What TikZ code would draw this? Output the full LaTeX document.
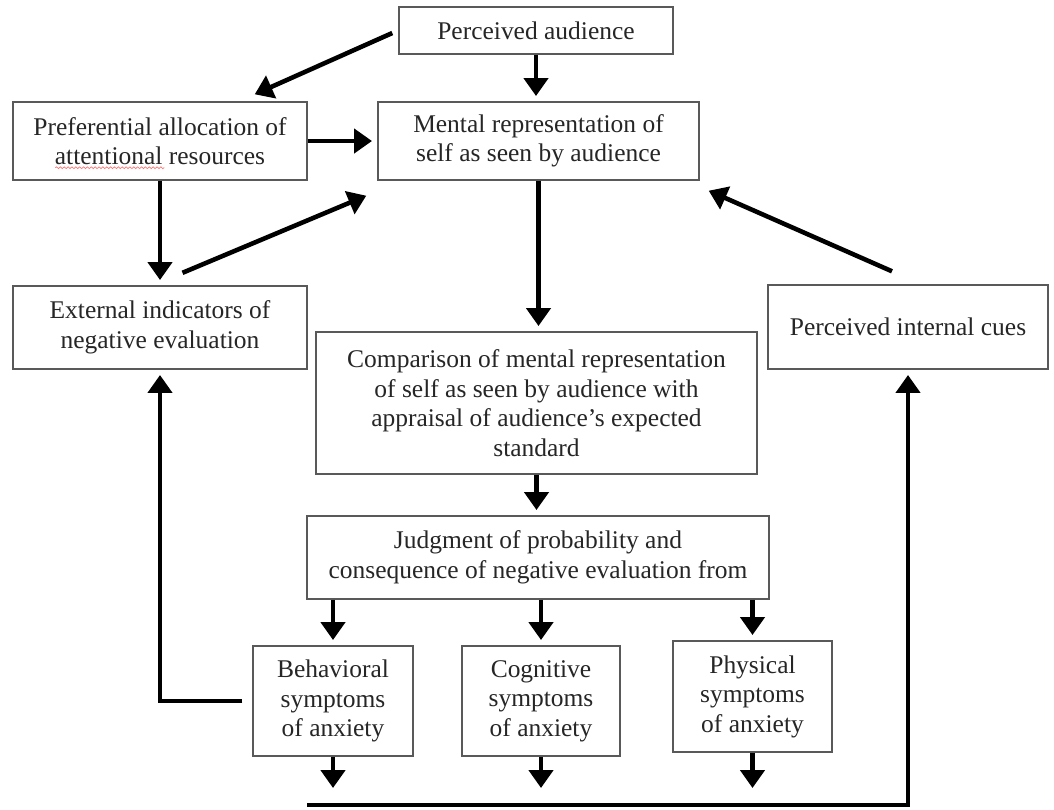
\documentclass[tikz,border=0pt]{standalone}
\usepackage{fontspec}
\setmainfont{Liberation Serif}
\usetikzlibrary{arrows.meta,positioning,decorations.pathmorphing}

\begin{document}
\begin{tikzpicture}[
  box/.style={draw=black!65, line width=0.8pt, fill=white, align=center,
              inner sep=2pt, text=black!85,
              font=\fontsize{14.5}{16.8}\selectfont},
  arrow/.style={-{Triangle[length=0.36cm,width=0.48cm]}, line width=2.6pt,
                shorten >=3pt},
  squiggle/.style={red!55, line width=0.4pt, decorate,
                   decoration={snake, amplitude=0.5pt, segment length=2.2pt}},
  every node/.style={align=center}
]

%% Page frame
\fill[white] (0,0) rectangle (21.08,-16.18);
\useasboundingbox (0,0) rectangle (21.08,-16.18);

%% Top row
\node[box, minimum width=5.48cm, minimum height=0.94cm] (pa) at (10.72,-0.61) {Perceived audience};
\node[box, minimum width=5.88cm, minimum height=1.56cm] (pref) at (3.2,-2.82)
     {Preferential allocation of\\attentional resources};
\node[box, minimum width=6.42cm, minimum height=1.56cm] (mr) at (10.77,-2.82)
     {Mental representation of\\self as seen by audience};

%% Middle row
\node[box, minimum width=5.88cm, minimum height=1.66cm] (ext) at (3.2,-6.55)
     {External indicators of\\negative evaluation};
\node[box, minimum width=5.6cm, minimum height=1.68cm] (pic) at (18.16,-6.54)
     {Perceived internal cues};
\node[box, minimum width=8.82cm, minimum height=2.84cm] (comp) at (10.73,-8.06)
     {Comparison of mental representation\\of self as seen by audience with\\appraisal of audience’s expected\\standard};
\node[box, minimum width=9.24cm, minimum height=1.66cm] (judg) at (10.76,-11.15)
     {Judgment of probability and\\consequence of negative evaluation from};

%% Symptoms
\node[box, minimum width=3.2cm, minimum height=2.2cm] (beh) at (6.66,-14.02)
     {Behavioral\\symptoms\\of anxiety};
\node[box, minimum width=3.16cm, minimum height=2.2cm] (cog) at (10.82,-14.02)
     {Cognitive\\symptoms\\of anxiety};
\node[box, minimum width=3.18cm, minimum height=2.22cm] (phys) at (15.05,-13.93)
     {Physical\\symptoms\\of anxiety};

%% Spell-check mark under "attentional"
\draw[squiggle] ([xshift=0.86cm,yshift=0.26cm]pref.south west)
  -- ([xshift=3.04cm,yshift=0.26cm]pref.south west);

%% Arrows between the upper boxes
\draw[arrow] (pa.south) -- (pa.south |- mr.north);
\draw[arrow, shorten >=0pt] ([xshift=-0.12cm,yshift=-0.05cm]pa.west)
  -- ([xshift=-1.06cm,yshift=0.14cm]pref.north east);
\draw[arrow] (pref.east) -- (mr.west);
\draw[arrow] (pref.south) -- (ext.north);
\draw[arrow, shorten >=0pt] ([xshift=0.45cm,yshift=0.25cm]ext.north)
  -- ([xshift=-0.22cm,yshift=-0.3cm]mr.south west);
\draw[arrow, shorten >=0pt] ([xshift=-0.32cm,yshift=0.26cm]pic.north)
  -- ([xshift=0.18cm,yshift=-0.2cm]mr.south east);
\draw[arrow] (mr.south) -- (mr.south |- comp.north);
\draw[arrow] (comp.south) -- (comp.south |- judg.north);

%% Judgment to symptoms, and symptoms downwards
\foreach \n in {beh,cog,phys}{
  \draw[arrow] (\n.north |- judg.south) -- (\n.north);
  \coordinate (\n-out) at (\n.south |- 0,-15.76);
  \draw[arrow, shorten >=0pt] (\n.south) -- (\n-out);
}

%% Feedback loops
\draw[arrow, shorten <=0.2cm] (beh.west) -- (beh.west -| ext.south) -- (ext.south);
\coordinate (loop) at (6.14,-16.1);
\draw[arrow] (loop) -- (loop -| pic.south) -- (pic.south);

\end{tikzpicture}
\end{document}
